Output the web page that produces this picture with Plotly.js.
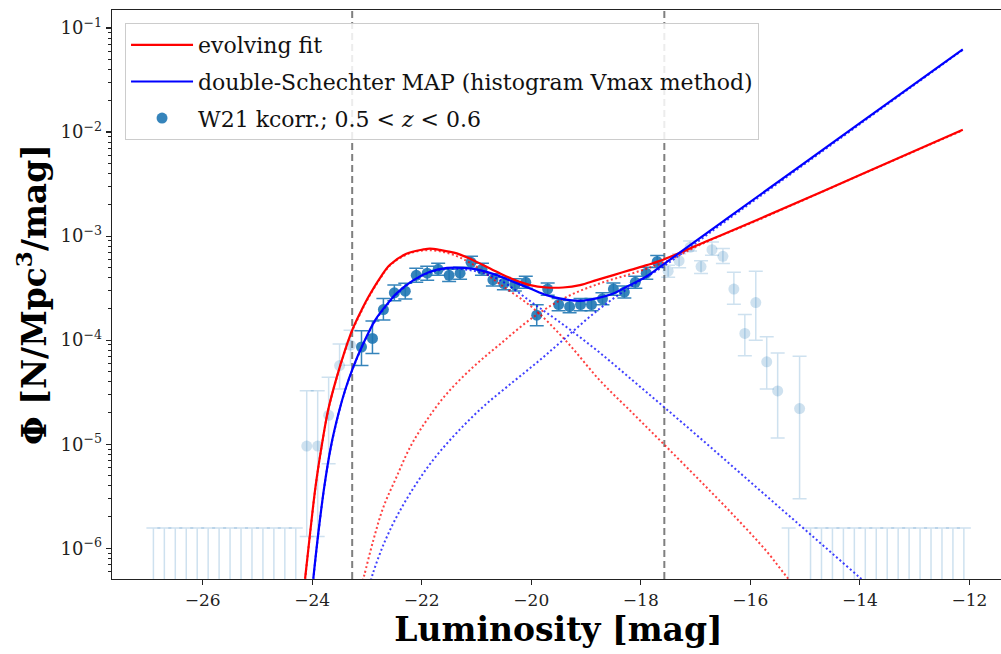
<!DOCTYPE html>
<html>
<head>
<meta charset="utf-8">
<script src="https://cdn.plot.ly/plotly-3.0.1.min.js"></script>
<style>
  html, body { margin: 0; padding: 0; background: #fff; overflow: hidden; }
  #chart { width: 1010px; height: 654px; }
</style>
</head>
<body>
<div id="chart"></div>
<script>
// ---- Data ----
// Evolving fit (red solid)
const magEvo = [-24.13,-24.04,-23.94,-23.83,-23.71,-23.55,-23.40,-23.27,-23.10,-22.98,-22.76,-22.58,-22.28,-21.97,-21.85,-21.67,-21.36,-21.06,-20.63,-20.33,-20.02,-19.72,-19.42,-19.11,-18.81,-18.50,-18.20,-17.89,-17.65,-16.80,-15.88,-14.00,-12.12];
const phiEvo = [5.12e-7,1.38e-6,3.89e-6,9.42e-6,2.12e-5,4.44e-5,8.02e-5,1.25e-4,1.94e-4,2.57e-4,3.98e-4,5.31e-4,6.76e-4,7.45e-4,7.59e-4,7.38e-4,6.82e-4,5.87e-4,4.54e-4,3.84e-4,3.38e-4,3.21e-4,3.21e-4,3.38e-4,3.78e-4,4.22e-4,4.71e-4,5.26e-4,5.78e-4,8.91e-4,1.43e-3,3.86e-3,1.05e-2];
// Evolving fit components (red dotted)
const magEvoBright = [-24.13,-24.04,-23.94,-23.83,-23.71,-23.55,-23.40,-23.27,-23.10,-22.98,-22.76,-22.58,-22.28,-21.97,-21.67,-21.36,-21.06,-20.57,-19.96,-19.35,-18.75,-18.14,-17.56,-16.92,-16.31,-15.70,-15.31,-15.00];
const phiEvoBright = [5.0e-7,1.36e-6,3.85e-6,9.35e-6,2.1e-5,4.4e-5,7.9e-5,1.23e-4,1.9e-4,2.52e-4,3.91e-4,5.22e-4,6.65e-4,7.28e-4,7.15e-4,6.43e-4,5.32e-4,3.45e-4,2.02e-4,9.64e-5,4.12e-5,1.97e-5,9.77e-6,4.47e-6,2.09e-6,9.33e-7,5.12e-7,3.3e-7];
const magEvoFaint = [-23.10,-23.05,-22.885,-22.70,-22.46,-22.21,-21.91,-21.54,-21.06,-20.57,-19.96,-19.35,-18.75,-18.14,-17.57,-16.80,-15.88,-14.00,-12.12];
const phiEvoFaint = [4.4e-7,5.50e-7,1.19e-6,2.49e-6,4.85e-6,9.42e-6,1.70e-5,3.07e-5,5.53e-5,9.16e-5,1.67e-4,2.61e-4,3.51e-4,4.41e-4,5.62e-4,8.81e-4,1.41e-3,3.85e-3,1.04e-2];
// double-Schechter MAP (blue solid)
const magDS = [-23.98,-23.89,-23.78,-23.66,-23.52,-23.40,-23.25,-23.10,-22.85,-22.61,-22.46,-22.15,-21.85,-21.54,-21.24,-20.94,-20.63,-20.33,-20.02,-19.72,-19.42,-19.11,-18.81,-18.50,-18.20,-17.89,-17.65,-16.46,-14.00,-12.12];
const phiDS = [5.12e-7,1.38e-6,3.89e-6,9.42e-6,1.97e-5,3.30e-5,5.53e-5,8.51e-5,1.56e-4,2.29e-4,2.82e-4,3.78e-4,4.54e-4,4.95e-4,4.95e-4,4.71e-4,4.22e-4,3.64e-4,3.14e-4,2.71e-4,2.48e-4,2.39e-4,2.52e-4,2.81e-4,3.38e-4,4.12e-4,5.07e-4,1.43e-3,1.22e-2,6.24e-2];
// double-Schechter components (blue dotted)
const magDSBright = [-23.98,-23.89,-23.78,-23.66,-23.52,-23.40,-23.25,-23.10,-22.85,-22.61,-22.46,-22.15,-21.85,-21.54,-21.24,-20.94,-20.57,-19.96,-19.35,-18.75,-18.14,-17.56,-16.92,-16.31,-15.70,-15.09,-14.54,-13.97,-13.60];
const phiDSBright = [5.0e-7,1.36e-6,3.85e-6,9.3e-6,1.95e-5,3.27e-5,5.45e-5,8.4e-5,1.53e-4,2.25e-4,2.76e-4,3.74e-4,4.46e-4,4.83e-4,4.80e-4,4.49e-4,3.78e-4,2.25e-4,1.33e-4,7.59e-5,4.07e-5,2.24e-5,1.15e-5,6.03e-6,3.16e-6,1.66e-6,9.27e-7,5.07e-7,3.47e-7];
const magDSFaint = [-22.93,-22.885,-22.70,-22.46,-22.15,-21.79,-21.36,-20.88,-20.33,-19.84,-19.35,-18.75,-18.14,-17.57,-16.46,-14.00,-12.12];
const phiDSFaint = [4.9e-7,5.89e-7,1.08e-6,2.00e-6,3.80e-6,7.08e-6,1.29e-5,2.29e-5,3.98e-5,6.46e-5,1.08e-4,2.01e-4,3.38e-4,5.19e-4,1.38e-3,1.19e-2,6.17e-2];

// W21 kcorr. data, bins inside the magnitude limits
const magIn = [-23.1,-22.9,-22.7,-22.5,-22.3,-22.1,-21.9,-21.7,-21.5,-21.3,-21.1,-20.9,-20.7,-20.5,-20.3,-20.1,-19.9,-19.7,-19.5,-19.3,-19.1,-18.9,-18.7,-18.5,-18.3,-18.1,-17.9,-17.7];
const phiIn = [8.6e-5,1.04e-4,1.97e-4,2.85e-4,2.96e-4,4.2e-4,4.4e-4,4.8e-4,4.2e-4,4.4e-4,5.6e-4,4.8e-4,3.8e-4,3.5e-4,3.4e-4,3.6e-4,1.74e-4,3.1e-4,2.2e-4,2.1e-4,2.2e-4,2.2e-4,2.5e-4,3.1e-4,2.9e-4,3.6e-4,4.4e-4,5.7e-4];
const errInPlus = [3.7e-5,4.9e-5,5.5e-5,5.4e-5,5.6e-5,7.1e-5,7.4e-5,6.9e-5,6.0e-5,6.3e-5,8.0e-5,6.9e-5,5.4e-5,5.0e-5,4.9e-5,5.1e-5,4.5e-5,4.4e-5,3.1e-5,3.0e-5,3.1e-5,3.1e-5,3.6e-5,4.4e-5,4.1e-5,5.1e-5,6.3e-5,8.2e-5];
const errInMinus = [2.9e-5,2.95e-5,4.1e-5,4.6e-5,4.7e-5,6.0e-5,6.3e-5,6.0e-5,5.3e-5,5.5e-5,7.0e-5,6.0e-5,4.8e-5,4.4e-5,4.3e-5,4.5e-5,3.6e-5,3.9e-5,2.8e-5,2.6e-5,2.8e-5,2.8e-5,3.1e-5,3.9e-5,3.6e-5,4.5e-5,5.5e-5,7.1e-5];
// bins outside the limits (faded)
const magOut = [-24.1,-23.9,-23.7,-23.5,-23.3,-17.5,-17.3,-17.1,-16.9,-16.7,-16.5,-16.3,-16.1,-15.9,-15.7,-15.5,-15.1];
const phiOut = [9.6e-6,9.6e-6,1.9e-5,5.7e-5,8.95e-5,4.6e-4,5.8e-4,7.8e-4,5.1e-4,7.4e-4,6.4e-4,3.1e-4,1.16e-4,2.3e-4,6.2e-5,3.25e-5,2.2e-5];
const errOutPlus = [2.3e-5,2.3e-5,2.5e-5,3.5e-5,3.5e-5,6.6e-5,9.7e-5,1.2e-4,6.9e-5,1.4e-4,1.2e-4,1.4e-4,6.1e-5,2.3e-4,4.6e-5,4.3e-5,4.8e-5];
const errOutMinus = [8.3e-6,8.3e-6,1.25e-5,2.3e-5,3.2e-5,5.8e-5,8.4e-5,6.0e-5,7.2e-5,8.4e-5,9.4e-5,8.8e-5,4.5e-5,1.3e-4,2.8e-5,2.1e-5,1.9e-5];
// empty bins (Phi = 0, only the upper error is visible on the log axis)
const magEmpty = [-26.9,-26.7,-26.5,-26.3,-26.1,-25.9,-25.7,-25.5,-25.3,-25.1,-24.9,-24.7,-24.5,-24.3,-15.3,-14.9,-14.7,-14.5,-14.3,-14.1,-13.9,-13.7,-13.5,-13.3,-13.1,-12.9,-12.7,-12.5,-12.3,-12.1];
const phiEmpty = [1e-9,1e-9,1e-9,1e-9,1e-9,1e-9,1e-9,1e-9,1e-9,1e-9,1e-9,1e-9,1e-9,1e-9,1e-9,1e-9,1e-9,1e-9,1e-9,1e-9,1e-9,1e-9,1e-9,1e-9,1e-9,1e-9,1e-9,1e-9,1e-9,1e-9];
const errEmptyPlus = [1.57e-6,1.57e-6,1.57e-6,1.57e-6,1.57e-6,1.57e-6,1.57e-6,1.57e-6,1.57e-6,1.57e-6,1.57e-6,1.57e-6,1.57e-6,1.57e-6,1.57e-6,1.57e-6,1.57e-6,1.57e-6,1.57e-6,1.57e-6,1.57e-6,1.57e-6,1.57e-6,1.57e-6,1.57e-6,1.57e-6,1.57e-6,1.57e-6,1.57e-6,1.57e-6];
const errEmptyMinus = [0,0,0,0,0,0,0,0,0,0,0,0,0,0,0,0,0,0,0,0,0,0,0,0,0,0,0,0,0,0];
// magnitude limits (grey dashed lines)
const limitMags = [-23.27, -17.57];
// axis ticks
const yTickVals = [1e-6,1e-5,1e-4,1e-3,1e-2,1e-1];
const yTickText = ['10<sup>−6</sup>','10<sup>−5</sup>','10<sup>−4</sup>','10<sup>−3</sup>','10<sup>−2</sup>','10<sup>−1</sup>'];

// ---- Styles ----
const C0 = 'rgba(31,119,180,0.9)';
const C0light = 'rgba(31,119,180,0.22)';
const serif = 'DejaVu Serif, serif';
const dotRed = { color: 'rgba(255,0,0,0.75)', width: 2, dash: '2px,2.5px', shape: 'spline' };
const dotBlue = { color: 'rgba(0,0,255,0.75)', width: 2, dash: '2px,2.5px', shape: 'spline' };

const traces = [
  { x: magEmpty, y: phiEmpty, type: 'scatter', mode: 'markers',
    marker: { size: 10, color: C0light },
    error_y: { type: 'data', symmetric: false, array: errEmptyPlus, arrayminus: errEmptyMinus, color: C0light, thickness: 1.5, width: 7 },
    showlegend: false, hoverinfo: 'skip' },
  { x: magOut, y: phiOut, type: 'scatter', mode: 'markers',
    marker: { size: 11, color: C0light },
    error_y: { type: 'data', symmetric: false, array: errOutPlus, arrayminus: errOutMinus, color: C0light, thickness: 1.5, width: 7 },
    showlegend: false, hoverinfo: 'skip' },
  { x: magIn, y: phiIn, type: 'scatter', mode: 'markers', name: 'W21 kcorr.; 0.5 &lt; <i>z</i> &lt; 0.6',
    legendgroup: 'g3', legendrank: 3,
    marker: { size: 11, color: C0 },
    error_y: { type: 'data', symmetric: false, array: errInPlus, arrayminus: errInMinus, color: C0, thickness: 1.5, width: 7 } },
  { x: magEvoBright, y: phiEvoBright, type: 'scatter', mode: 'lines', line: dotRed, showlegend: false, hoverinfo: 'skip' },
  { x: magEvoFaint, y: phiEvoFaint, type: 'scatter', mode: 'lines', line: dotRed, showlegend: false, hoverinfo: 'skip' },
  { x: magDSBright, y: phiDSBright, type: 'scatter', mode: 'lines', line: dotBlue, showlegend: false, hoverinfo: 'skip' },
  { x: magDSFaint, y: phiDSFaint, type: 'scatter', mode: 'lines', line: dotBlue, showlegend: false, hoverinfo: 'skip' },
  { x: magEvo, y: phiEvo, type: 'scatter', mode: 'lines', name: 'evolving fit', legendgroup: 'g1', legendrank: 1,
    line: { color: '#ff0000', width: 2.2, shape: 'spline' } },
  { x: magDS, y: phiDS, type: 'scatter', mode: 'lines', name: 'double-Schechter MAP (histogram Vmax method)', legendgroup: 'g2', legendrank: 2,
    line: { color: '#0000ff', width: 2.2, shape: 'spline' } }
];

const shapes = limitMags.map(m => ({
  type: 'line', xref: 'x', yref: 'paper', x0: m, x1: m, y0: 0, y1: 1,
  line: { color: '#7f7f7f', width: 2, dash: '7px,4px' }, layer: 'below'
}));

const layout = {
  width: 1010, height: 654,
  margin: { l: 112, r: 5, t: 10, b: 75 },
  paper_bgcolor: '#ffffff', plot_bgcolor: '#ffffff',
  showlegend: true,
  shapes: shapes,
  xaxis: {
    range: [-27.656, -11.349], tick0: -26, dtick: 2,
    ticks: 'outside', ticklen: 5, tickwidth: 1.2, tickcolor: '#222',
    showline: true, linecolor: '#222', linewidth: 1.3, mirror: true,
    showgrid: false, zeroline: false,
    tickfont: { family: serif, size: 17, color: '#222' },
    title: { text: '<b>Luminosity [mag]</b>', font: { family: serif, size: 33, color: '#000' }, standoff: 8 }
  },
  yaxis: {
    type: 'log', range: [-6.295, -0.827],
    tickmode: 'array', tickvals: yTickVals, ticktext: yTickText,
    ticks: 'outside', ticklen: 5, tickwidth: 1.2, tickcolor: '#222',
    minor: { ticks: 'outside', ticklen: 3, tickwidth: 1, tickcolor: '#222', dtick: 'D1', showgrid: false },
    showline: true, linecolor: '#222', linewidth: 1.3, mirror: true,
    showgrid: false, zeroline: false,
    tickfont: { family: serif, size: 18, color: '#222' },
    title: { text: '<b>Φ [N/Mpc<sup>3</sup>/mag]</b>', font: { family: serif, size: 33, color: '#000' }, standoff: 4 }
  },
  legend: {
    x: 0.0146, y: 0.977, xanchor: 'left', yanchor: 'top',
    bgcolor: 'rgba(255,255,255,0.85)', bordercolor: '#cccccc', borderwidth: 1,
    font: { family: serif, size: 22, color: '#111' },
    traceorder: 'grouped', tracegroupgap: 5, itemwidth: 62
  }
};

Plotly.newPlot('chart', traces, layout, { displayModeBar: false, staticPlot: true });
</script>
</body>
</html>
